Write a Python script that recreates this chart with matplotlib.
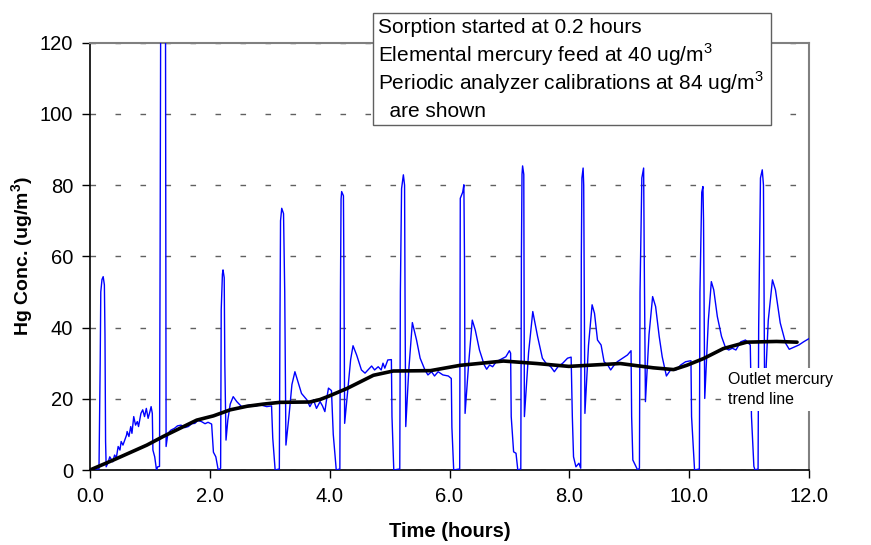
import matplotlib.pyplot as plt
from matplotlib.patches import Rectangle

# datos
hg_time = [
    0.00, 0.15, 0.17, 0.18, 0.20, 0.22, 0.24, 0.25, 0.26, 0.27,
    0.30, 0.33, 0.38, 0.41, 0.44, 0.47, 0.50, 0.52, 0.55, 0.58,
    0.61, 0.62, 0.65, 0.68, 0.70, 0.73, 0.76, 0.79, 0.81, 0.85,
    0.88, 0.91, 0.94, 0.97, 1.00, 1.02, 1.04, 1.05, 1.08, 1.11,
    1.13, 1.16, 1.17, 1.18, 1.26, 1.27, 1.30, 1.35, 1.41, 1.46,
    1.52, 1.58, 1.64, 1.70, 1.75, 1.80, 1.86, 1.92, 1.97, 2.03,
    2.06, 2.10, 2.14, 2.18, 2.19, 2.21, 2.22, 2.24, 2.25, 2.27,
    2.30, 2.34, 2.39, 2.45, 2.53, 2.60, 2.67, 2.75, 2.84, 2.95,
    3.03, 3.05, 3.09, 3.16, 3.17, 3.18, 3.20, 3.23, 3.25, 3.27,
    3.32, 3.37, 3.42, 3.48, 3.53, 3.62, 3.67, 3.73, 3.78, 3.84,
    3.88, 3.92, 3.95, 3.98, 4.03, 4.06, 4.11, 4.17, 4.18, 4.19,
    4.20, 4.23, 4.24, 4.25, 4.30, 4.35, 4.39, 4.45, 4.53, 4.59,
    4.64, 4.70, 4.75, 4.81, 4.86, 4.89, 4.92, 4.97, 5.03, 5.04,
    5.07, 5.17, 5.18, 5.20, 5.23, 5.25, 5.26, 5.27, 5.32, 5.38,
    5.45, 5.51, 5.59, 5.64, 5.70, 5.75, 5.81, 5.89, 5.98, 6.03,
    6.04, 6.07, 6.17, 6.18, 6.22, 6.24, 6.25, 6.26, 6.32, 6.38,
    6.43, 6.50, 6.58, 6.62, 6.67, 6.72, 6.78, 6.86, 6.94, 7.00,
    7.02, 7.03, 7.07, 7.11, 7.14, 7.19, 7.20, 7.21, 7.22, 7.24,
    7.25, 7.32, 7.39, 7.47, 7.55, 7.61, 7.69, 7.75, 7.81, 7.89,
    7.97, 8.03, 8.05, 8.07, 8.11, 8.16, 8.19, 8.20, 8.21, 8.23,
    8.24, 8.26, 8.32, 8.38, 8.42, 8.47, 8.53, 8.58, 8.64, 8.69,
    8.75, 8.80, 8.89, 8.97, 9.03, 9.04, 9.06, 9.14, 9.17, 9.18,
    9.21, 9.24, 9.25, 9.27, 9.33, 9.39, 9.44, 9.50, 9.55, 9.62,
    9.69, 9.78, 9.86, 9.94, 10.03, 10.04, 10.09, 10.17, 10.18, 10.21,
    10.23, 10.24, 10.26, 10.32, 10.37, 10.41, 10.47, 10.54, 10.61, 10.66,
    10.72, 10.78, 10.86, 10.94, 11.02, 11.04, 11.08, 11.10, 11.15, 11.16,
    11.19, 11.22, 11.24, 11.26, 11.32, 11.39, 11.44, 11.52, 11.61, 11.67,
    11.75, 11.83, 11.91, 12.00,
]
hg_conc = [
    0.0, 0.3, 30.0, 50.0, 53.5, 54.3, 52.0, 38.0, 8.0, 0.9,
    2.0, 3.7, 2.3, 4.2, 3.5, 6.6, 5.6, 8.0, 7.0, 8.4,
    9.8, 10.8, 9.4, 12.2, 10.3, 15.0, 12.6, 13.6, 12.2, 15.9,
    16.9, 15.0, 17.3, 14.5, 16.4, 17.8, 15.9, 5.6, 3.7, 0.0,
    0.9, 1.0, 60.0, 130.0, 130.0, 6.6, 10.3, 11.2, 11.7, 12.4,
    12.6, 11.9, 12.2, 13.0, 13.1, 13.9, 13.6, 13.0, 13.4, 12.9,
    5.0, 3.7, 0.0, 0.5, 45.0, 55.0, 56.2, 54.0, 30.0, 8.4,
    14.0, 18.5, 20.6, 19.2, 17.8, 18.0, 18.3, 17.9, 18.3, 17.8,
    18.0, 9.0, 0.0, 0.3, 40.0, 70.0, 73.5, 72.0, 50.0, 7.0,
    15.0, 24.0, 27.6, 24.3, 21.5, 19.7, 17.8, 19.7, 17.3, 19.2,
    18.0, 16.4, 20.0, 23.0, 22.3, 10.0, 0.0, 0.3, 50.0, 76.0,
    78.2, 77.0, 50.0, 13.1, 22.0, 31.0, 34.9, 32.3, 28.1, 27.2,
    28.1, 29.2, 28.1, 29.0, 28.1, 30.0, 28.6, 30.9, 31.0, 15.0,
    0.0, 0.3, 50.0, 79.0, 82.9, 80.0, 40.0, 12.2, 28.0, 41.4,
    36.5, 31.4, 28.1, 26.7, 27.6, 26.4, 27.6, 26.7, 26.4, 25.7,
    12.0, 0.0, 0.3, 76.3, 78.0, 80.1, 60.0, 15.9, 30.0, 42.1,
    39.3, 33.7, 29.5, 28.3, 29.5, 29.0, 30.4, 31.1, 31.8, 33.5,
    32.8, 15.0, 5.1, 4.7, 0.0, 0.3, 60.0, 83.0, 85.4, 83.0,
    15.0, 33.0, 44.5, 37.5, 31.4, 30.0, 29.0, 27.6, 29.0, 30.0,
    31.4, 31.7, 15.0, 3.7, 0.9, 1.9, 0.5, 60.0, 82.0, 84.8,
    80.0, 15.9, 35.0, 46.4, 44.0, 36.5, 35.1, 30.4, 29.5, 28.1,
    29.5, 30.4, 31.4, 32.3, 33.5, 15.0, 2.8, 0.0, 0.5, 50.0,
    82.0, 84.8, 60.0, 19.2, 38.0, 48.7, 45.9, 37.5, 31.8, 26.4,
    28.1, 28.1, 29.5, 30.4, 30.7, 15.0, 0.0, 0.3, 50.0, 78.0,
    79.6, 70.0, 20.1, 42.0, 52.9, 50.6, 43.1, 37.5, 34.2, 33.7,
    34.2, 33.7, 36.0, 36.5, 35.1, 15.0, 1.0, 0.0, 0.3, 40.0,
    82.0, 84.3, 80.0, 19.7, 42.0, 53.4, 50.6, 41.3, 35.6, 33.9,
    34.5, 35.1, 36.0, 36.9,
]

trend_time = [
    0.00, 0.39, 0.95, 1.22, 1.50, 1.78, 2.06, 2.34, 2.62, 2.89,
    3.17, 3.67, 3.84, 3.98, 4.29, 4.73, 5.06, 5.68, 6.18, 6.90,
    7.46, 7.99, 8.85, 9.40, 9.74, 9.96, 10.24, 10.57, 10.96, 11.46,
    11.80,
]
trend_conc = [
    0.0, 2.8, 7.0, 9.4, 11.7, 14.0, 15.2, 16.9, 17.9, 18.5,
    19.0, 19.1, 19.8, 20.7, 22.9, 26.6, 27.8, 27.9, 29.4, 30.6,
    29.9, 29.1, 29.9, 28.7, 28.2, 29.4, 31.3, 34.1, 35.9, 36.1,
    35.9,
]

x_ticks = [0, 2, 4, 6, 8, 10, 12]
y_ticks = [0, 20, 40, 60, 80, 100, 120]

note_lines = [
    "Sorption started at 0.2 hours",
    "Elemental mercury feed at 40 ug/m$^3$",
    "Periodic analyzer calibrations at 84 ug/m$^3$",
    "  are shown",
]

plt.rcParams["font.family"] = ["Liberation Sans", "DejaVu Sans"]
plt.rcParams["mathtext.fontset"] = "custom"
plt.rcParams["mathtext.rm"] = "Liberation Sans"
plt.rcParams["mathtext.bf"] = "Liberation Sans:bold"

W, H = 871, 545
fig = plt.figure(figsize=(W / 100, H / 100), dpi=100)
ax = fig.add_axes([90 / W, 75 / H, 719 / W, 427.3 / H])

ax.plot(hg_time, hg_conc, color="#0000FF", lw=1.0, zorder=3)
ax.plot(trend_time, trend_conc, color="black", lw=2.6, zorder=4,
        solid_capstyle="round", solid_joinstyle="round")

ax.set_xlim(0, 12)
ax.set_ylim(0, 120)
ax.set_xticks(x_ticks)
ax.set_xticklabels([f"{v:.1f}" for v in x_ticks])
ax.set_yticks(y_ticks)
ax.tick_params(axis="both", labelsize=14.5, direction="out", width=1)
ax.tick_params(axis="x", length=6, pad=6)
ax.tick_params(axis="y", length=6, pad=6)

ax.yaxis.grid(True, color="#606060", lw=1.0, linestyle=(0, (4, 14)))
ax.set_axisbelow(True)

for side in ["top", "right"]:
    ax.spines[side].set_color("#808080")
    ax.spines[side].set_linewidth(1.5)
for side in ["left", "bottom"]:
    ax.spines[side].set_color("black")
    ax.spines[side].set_linewidth(1.2)

ax.set_xlabel("Time (hours)", fontsize=14.5, fontweight="bold", labelpad=12)
ax.set_ylabel("Hg Conc. (ug/m$^\\mathbf{3}$)", fontsize=14, fontweight="bold", labelpad=3)

# recuadro de notas, una linea cada vez para controlar el espaciado
fig.patches.append(Rectangle((373 / W, 1 - 125 / H), 398 / W, 112 / H,
                             transform=fig.transFigure, facecolor="white",
                             edgecolor="#606060", lw=1.0, zorder=5))
baselines = [33, 62, 90, 117]
for line, y in zip(note_lines, baselines):
    fig.text(378 / W, 1 - y / H, line, fontsize=15, ha="left",
             va="baseline", zorder=6)

ax.text(10.65, 22.6, "Outlet mercury\ntrend line", fontsize=11.5,
        ha="left", va="center", linespacing=1.4, zorder=6, clip_on=False,
        bbox=dict(boxstyle="square,pad=0.25", facecolor="white", edgecolor="none"))

fig.savefig("out.png", dpi=100)
